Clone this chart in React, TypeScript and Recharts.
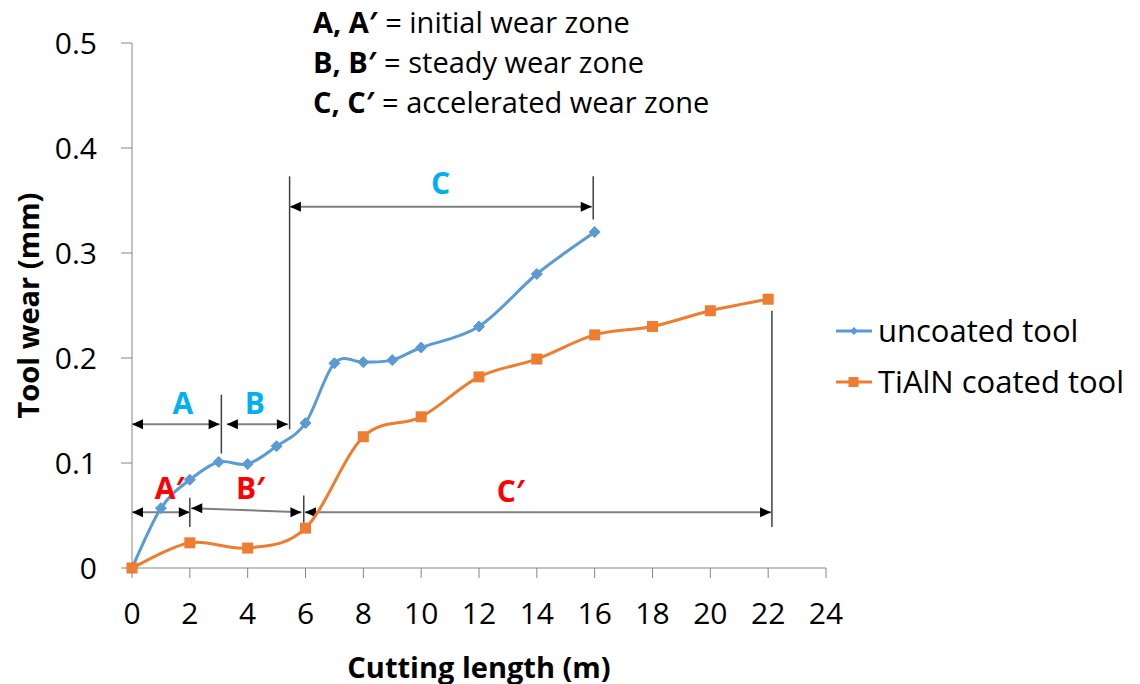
import React from "react";
import {
  LineChart,
  Line,
  XAxis,
  YAxis,
  Legend,
  ReferenceLine,
  ReferenceDot,
} from "recharts";

// cutting length (m) / tool wear (mm)
const uncoatedLength = [0, 1, 2, 3, 4, 5, 6, 7, 8, 9, 10, 12, 14, 16];
const uncoatedWear = [0, 0.057, 0.084, 0.101, 0.099, 0.116, 0.138, 0.195, 0.196, 0.198, 0.21, 0.23, 0.28, 0.32];

const coatedLength = [0, 2, 4, 6, 8, 10, 12, 14, 16, 18, 20, 22];
const coatedWear = [0, 0.024, 0.019, 0.038, 0.125, 0.144, 0.182, 0.199, 0.222, 0.23, 0.245, 0.256];

const xTicks = [0, 2, 4, 6, 8, 10, 12, 14, 16, 18, 20, 22, 24];
const yTicks = [0, 0.1, 0.2, 0.3, 0.4, 0.5];

// wear zone annotations, in chart units
const zoneArrows = [
  { x1: 0, y1: 0.137, x2: 3.03, y2: 0.137 },
  { x1: 3.28, y1: 0.137, x2: 5.39, y2: 0.137 },
  { x1: 5.46, y1: 0.344, x2: 15.9, y2: 0.344 },
  { x1: 0, y1: 0.053, x2: 2, y2: 0.053 },
  { x1: 2.05, y1: 0.057, x2: 5.86, y2: 0.053 },
  { x1: 5.98, y1: 0.053, x2: 22.1, y2: 0.053 },
];
const zoneBounds = [
  { x: 3.09, y1: 0.109, y2: 0.165 },
  { x: 5.45, y1: 0.132, y2: 0.373 },
  { x: 15.95, y1: 0.332, y2: 0.373 },
  { x: 2, y1: 0.039, y2: 0.067 },
  { x: 5.94, y1: 0.043, y2: 0.069 },
  { x: 22.13, y1: 0.039, y2: 0.245 },
];
const zoneLabels = [
  { x: 1.76, y: 0.158, text: "A", coated: false },
  { x: 4.25, y: 0.158, text: "B", coated: false },
  { x: 10.67, y: 0.367, text: "C", coated: false },
  { x: 1.3, y: 0.077, text: "A\u2032", coated: true },
  { x: 4.1, y: 0.077, text: "B\u2032", coated: true },
  { x: 13.1, y: 0.074, text: "C\u2032", coated: true },
];
const zoneNotes = [
  ["A, A\u2032", "initial wear zone"],
  ["B, B\u2032", "steady wear zone"],
  ["C, C\u2032", "accelerated wear zone"],
];

const uncoated = uncoatedLength.map((x, i) => ({ x, wear: uncoatedWear[i] }));
const coated = coatedLength.map((x, i) => ({ x, wear: coatedWear[i] }));

const BLUE = "#5B9BD5";
const ORANGE = "#ED7D31";
const AXIS = "#868686";
const FONT = "'Open Sans', sans-serif";

// excel-like smoothed line (catmull-rom through the points)
function smoothCurve(context: any) {
  let pts: number[][] = [];
  return {
    areaStart() {},
    areaEnd() {},
    lineStart() {
      pts = [];
    },
    point(x: number, y: number) {
      pts.push([+x, +y]);
    },
    lineEnd() {
      if (!pts.length) return;
      context.moveTo(pts[0][0], pts[0][1]);
      for (let i = 0; i < pts.length - 1; i++) {
        const p0 = pts[i - 1] || pts[i];
        const p1 = pts[i];
        const p2 = pts[i + 1];
        const p3 = pts[i + 2] || p2;
        context.bezierCurveTo(
          p1[0] + (p2[0] - p0[0]) / 6,
          p1[1] + (p2[1] - p0[1]) / 6,
          p2[0] - (p3[0] - p1[0]) / 6,
          p2[1] - (p3[1] - p1[1]) / 6,
          p2[0],
          p2[1]
        );
      }
    },
  };
}

function Diamond({ cx, cy, color }: { cx: number; cy: number; color: string }) {
  const s = 5.5;
  return (
    <path
      d={`M${cx},${cy - s}L${cx + s},${cy}L${cx},${cy + s}L${cx - s},${cy}Z`}
      fill={color}
      stroke={color}
    />
  );
}

function Square({ cx, cy, color }: { cx: number; cy: number; color: string }) {
  const s = 5.5;
  return <rect x={cx - s} y={cy - s} width={s * 2} height={s * 2} fill={color} />;
}

function arrowHead(x: number, y: number, dir: number, key: string) {
  const len = 11;
  const half = 5;
  return (
    <path
      key={key}
      d={`M${x},${y}L${x - dir * len},${y - half}L${x - dir * len},${y + half}Z`}
      fill="#000"
    />
  );
}

function DoubleArrow(props: any) {
  const { x1, y1, x2, y2 } = props;
  return (
    <g>
      <line x1={x1} y1={y1} x2={x2} y2={y2} stroke="#7F7F7F" strokeWidth={2} />
      {arrowHead(x1, y1, -1, "s")}
      {arrowHead(x2, y2, 1, "e")}
    </g>
  );
}

function BoundLine(props: any) {
  const { x1, y1, x2, y2 } = props;
  return <line x1={x1} y1={y1} x2={x2} y2={y2} stroke="#404040" strokeWidth={1.5} />;
}

function LegendContent() {
  const items = [
    { name: "uncoated tool", color: BLUE, square: false },
    { name: "TiAlN coated tool", color: ORANGE, square: true },
  ];
  return (
    <div style={{ fontFamily: FONT }}>
      {items.map((it) => (
        <div
          key={it.name}
          style={{ display: "flex", alignItems: "center", height: 51, fontSize: 31, color: "#000" }}
        >
          <svg width={40} height={20} style={{ marginRight: 2 }}>
            <line x1={0} y1={10} x2={36} y2={10} stroke={it.color} strokeWidth={3} />
            {it.square ? (
              <rect x={12.5} y={5} width={10} height={10} fill={it.color} />
            ) : (
              <path d="M18,6L22,10L18,14L14,10Z" fill={it.color} />
            )}
          </svg>
          <span style={{ lineHeight: 1 }}>{it.name}</span>
        </div>
      ))}
    </div>
  );
}

export default function App() {
  return (
    <div
      style={{
        position: "absolute",
        left: 0,
        top: 0,
        width: 1140,
        height: 684,
        background: "#fff",
        fontFamily: FONT,
      }}
    >
      <LineChart
        width={1140}
        height={684}
        margin={{ top: 43, right: 10, left: 0, bottom: 0 }}
      >
        <XAxis
          dataKey="x"
          type="number"
          domain={[0, 24]}
          ticks={xTicks}
          allowDuplicatedCategory={false}
          height={116}
          stroke={AXIS}
          tickSize={10}
          tickMargin={25}
          tick={{ fontSize: 30, fill: "#000" }}
          label={{
            content: ({ viewBox }: any) => (
              <text
                x={viewBox.x + viewBox.width / 2}
                y={viewBox.y + 98}
                textAnchor="middle"
                dominantBaseline="central"
                fontSize={29}
                fontWeight="bold"
                fill="#000"
              >
                Cutting length (m)
              </text>
            ),
          }}
        />
        <YAxis
          dataKey="wear"
          type="number"
          domain={[0, 0.5]}
          ticks={yTicks}
          width={132}
          stroke={AXIS}
          tickSize={11}
          tickMargin={24}
          tick={{ fontSize: 30, fill: "#000" }}
          label={{
            content: ({ viewBox }: any) => {
              const cx = viewBox.x + 27;
              const cy = viewBox.y + viewBox.height / 2;
              return (
                <text
                  x={cx}
                  y={cy}
                  transform={`rotate(-90, ${cx}, ${cy})`}
                  textAnchor="middle"
                  dominantBaseline="central"
                  fontSize={29}
                  fontWeight="bold"
                  fill="#000"
                >
                  Tool wear (mm)
                </text>
              );
            },
          }}
        />
        <Legend
          layout="vertical"
          align="right"
          verticalAlign="top"
          content={<LegendContent />}
          wrapperStyle={{ position: "absolute", left: 836, top: 305, width: 304 }}
        />
        {zoneBounds.map((b, i) => (
          <ReferenceLine
            key={`b${i}`}
            segment={[
              { x: b.x, y: b.y1 },
              { x: b.x, y: b.y2 },
            ]}
            ifOverflow="visible"
            shape={BoundLine}
          />
        ))}
        {zoneArrows.map((a, i) => (
          <ReferenceLine
            key={`a${i}`}
            segment={[
              { x: a.x1, y: a.y1 },
              { x: a.x2, y: a.y2 },
            ]}
            ifOverflow="visible"
            shape={DoubleArrow}
          />
        ))}
        <Line
          data={uncoated}
          dataKey="wear"
          name="uncoated tool"
          type={smoothCurve as any}
          stroke={BLUE}
          strokeWidth={3}
          dot={(p: any) => <Diamond key={`u${p.index}`} cx={p.cx} cy={p.cy} color={BLUE} />}
          activeDot={false}
          isAnimationActive={false}
        />
        <Line
          data={coated}
          dataKey="wear"
          name="TiAlN coated tool"
          type={smoothCurve as any}
          stroke={ORANGE}
          strokeWidth={3}
          dot={(p: any) => <Square key={`c${p.index}`} cx={p.cx} cy={p.cy} color={ORANGE} />}
          activeDot={false}
          isAnimationActive={false}
        />
        {zoneLabels.map((l, i) => (
          <ReferenceDot
            key={`l${i}`}
            x={l.x}
            y={l.y}
            r={0}
            ifOverflow="visible"
            shape={(p: any) => (
              <text
                x={p.cx}
                y={p.cy}
                textAnchor="middle"
                dominantBaseline="central"
                fontSize={30}
                fontWeight="bold"
                fill={l.coated ? "#FF0000" : "#00B0F0"}
              >
                {l.text}
              </text>
            )}
          />
        ))}
      </LineChart>
      <div
        style={{
          position: "absolute",
          left: 313,
          top: 2,
          fontSize: 29,
          lineHeight: "40px",
          color: "#000",
        }}
      >
        {zoneNotes.map(([k, v]) => (
          <div key={k} style={{ whiteSpace: "nowrap" }}>
            <b>{k}</b> = {v}
          </div>
        ))}
      </div>
    </div>
  );
}
